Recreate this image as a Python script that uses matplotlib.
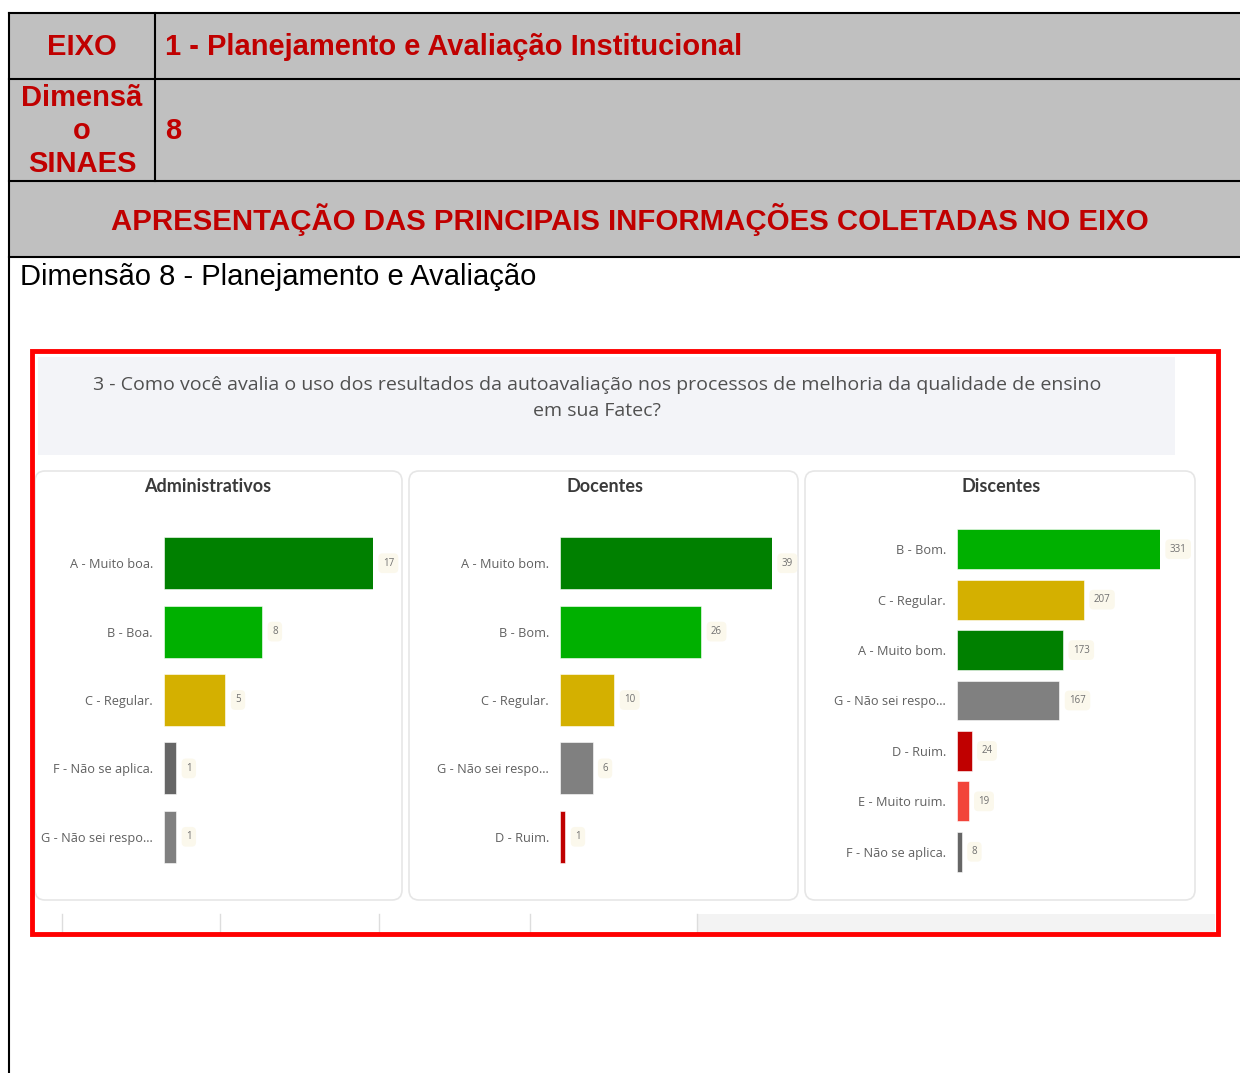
import matplotlib
matplotlib.use("Agg")
import matplotlib.pyplot as plt
from matplotlib.patches import Rectangle, FancyBboxPatch

adm_labels = ["A - Muito boa.", "B - Boa.", "C - Regular.", "F - Não se aplica.", "G - Não sei respo..."]
adm_values = [17, 8, 5, 1, 1]
doc_labels = ["A - Muito bom.", "B - Bom.", "C - Regular.", "G - Não sei respo...", "D - Ruim."]
doc_values = [39, 26, 10, 6, 1]
dis_labels = ["B - Bom.", "C - Regular.", "A - Muito bom.", "G - Não sei respo...", "D - Ruim.",
              "E - Muito ruim.", "F - Não se aplica."]
dis_values = [331, 207, 173, 167, 24, 19, 8]

panel_titles = ["Administrativos", "Docentes", "Discentes"]
question = ("3 - Como você avalia o uso dos resultados da autoavaliação nos processos de melhoria da qualidade de ensino\n"
            "em sua Fatec?")

# colour per answer letter
colors = {"A": "#008000", "B": "#00B000", "C": "#D4B000", "D": "#C00000",
          "E": "#F2443A", "F": "#666666", "G": "#808080"}

W, H = 1240, 1073
fig = plt.figure(figsize=(W / 100, H / 100), dpi=100)
fig.patch.set_facecolor("white")

bg = fig.add_axes([0, 0, 1, 1])
bg.set_xlim(0, W)
bg.set_ylim(H, 0)
bg.axis("off")

red = "#C00000"
tfont = "Liberation Sans"

# header table
bg.add_patch(Rectangle((9, 13), W - 9, 244, facecolor="#C0C0C0", edgecolor="none"))
for y in [13, 79, 181, 257]:
    bg.plot([9, W], [y, y], color="black", lw=1.5)
bg.plot([9, 9], [13, H], color="black", lw=1.5)
bg.plot([155, 155], [13, 181], color="black", lw=1.5)

bg.text(82, 47, "EIXO", color=red, fontsize=21, fontweight="bold", family=tfont, ha="center", va="center")
bg.text(165, 47, "1 - Planejamento e Avaliação Institucional", color=red, fontsize=21,
        fontweight="bold", family=tfont, ha="left", va="center")
for txt, y in [("Dimensã", 98), ("o", 131), ("SINAES", 164)]:
    bg.text(82, y, txt, color=red, fontsize=21, fontweight="bold", family=tfont, ha="center", va="center")
bg.text(165, 131, "8", color=red, fontsize=21, fontweight="bold", family=tfont, ha="left", va="center")
bg.text(630, 220, "APRESENTAÇÃO DAS PRINCIPAIS INFORMAÇÕES COLETADAS NO EIXO", color=red, fontsize=21.2,
        fontweight="bold", family=tfont, ha="center", va="center")
bg.text(20, 277, "Dimensão 8 - Planejamento e Avaliação", color="black", fontsize=21,
        family=tfont, ha="left", va="center")

# dashboard screenshot area
dfont = "Open Sans"
bg.add_patch(Rectangle((38, 357), 1137, 98, facecolor="#F3F4F8", edgecolor="none"))
bg.text(597, 398, question, color="#505050", fontsize=14, family=dfont, ha="center", va="center",
        linespacing=1.5)

panels = [(35, 402), (409, 798), (805, 1195)]
title_x = [208, 605, 1001]
for (x0, x1), tx, title in zip(panels, title_x, panel_titles):
    bg.add_patch(FancyBboxPatch((x0, 471), x1 - x0, 429, boxstyle="round,pad=0,rounding_size=10",
                                facecolor="white", edgecolor="#E6E6E6", lw=1.2))
    bg.text(tx, 487, title, color="#3A3A3A", fontsize=13, family="Lato",
            fontweight="bold", ha="center", va="center")

# bottom strip of the screenshot
bg.add_patch(Rectangle((697, 914), 518, 20, facecolor="#F3F3F3", edgecolor="none"))
for x in [62, 220, 379, 530, 697]:
    bg.plot([x, x], [914, 934], color="#DDDDDD", lw=1)

bg.add_patch(Rectangle((32, 351), 1186, 583, facecolor="none", edgecolor="#FF0000", lw=3.5, zorder=5))


def px_axes(x0, y0, x1, y1):
    return fig.add_axes([x0 / W, 1 - y1 / H, (x1 - x0) / W, (y1 - y0) / H])


def bar_panel(box, labels, values, height):
    ax = px_axes(*box)
    ax.patch.set_alpha(0)
    pos = list(range(len(values)))
    cols = [colors[l[0]] for l in labels]
    ax.barh(pos, values, height=height, color=cols, edgecolor="white", linewidth=0.4)
    ax.set_xlim(0, max(values))
    ax.set_ylim(len(values) - 0.5, -0.5)
    ax.set_yticks(pos)
    ax.set_yticklabels(labels, fontsize=9.2, color="#606060", family=dfont)
    ax.tick_params(axis="y", length=0, pad=8)
    ax.set_xticks([])
    for s in ax.spines.values():
        s.set_visible(False)
    for p, v in zip(pos, values):
        ax.annotate(str(v), (v, p), xytext=(7, 0), textcoords="offset points", ha="left", va="center",
                    fontsize=7, color="#707070", family=dfont, annotation_clip=False,
                    bbox=dict(boxstyle="round,pad=0.45", facecolor="#FBF8EC", edgecolor="none"))
    return ax


bar_panel((164, 529, 373, 871), adm_labels, adm_values, 0.76)
bar_panel((560, 529, 772, 871), doc_labels, doc_values, 0.76)
bar_panel((957, 524, 1160, 877), dis_labels, dis_values, 0.79)

fig.savefig("out.png", dpi=100, facecolor="white")
